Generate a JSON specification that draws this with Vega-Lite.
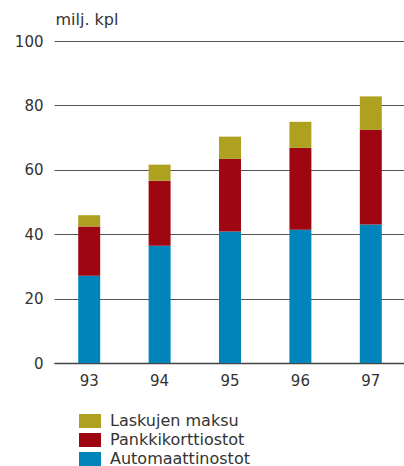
{
  "$schema": "https://vega.github.io/schema/vega-lite/v6.json",
  "width": 352,
  "height": 322,
  "padding": {"left": 54, "top": 41, "right": 0, "bottom": 103},
  "autosize": {"type": "none"},
  "data": {
    "values": [
      {"vuosi": "93", "laji": "Automaattinostot", "kerros": 1, "arvo": 27.1},
      {"vuosi": "93", "laji": "Pankkikorttiostot", "kerros": 2, "arvo": 15.3},
      {"vuosi": "93", "laji": "Laskujen maksu", "kerros": 3, "arvo": 3.5},
      {"vuosi": "94", "laji": "Automaattinostot", "kerros": 1, "arvo": 36.4},
      {"vuosi": "94", "laji": "Pankkikorttiostot", "kerros": 2, "arvo": 20.2},
      {"vuosi": "94", "laji": "Laskujen maksu", "kerros": 3, "arvo": 5.0},
      {"vuosi": "95", "laji": "Automaattinostot", "kerros": 1, "arvo": 40.8},
      {"vuosi": "95", "laji": "Pankkikorttiostot", "kerros": 2, "arvo": 22.6},
      {"vuosi": "95", "laji": "Laskujen maksu", "kerros": 3, "arvo": 6.9},
      {"vuosi": "96", "laji": "Automaattinostot", "kerros": 1, "arvo": 41.4},
      {"vuosi": "96", "laji": "Pankkikorttiostot", "kerros": 2, "arvo": 25.4},
      {"vuosi": "96", "laji": "Laskujen maksu", "kerros": 3, "arvo": 8.1},
      {"vuosi": "97", "laji": "Automaattinostot", "kerros": 1, "arvo": 43.0},
      {"vuosi": "97", "laji": "Pankkikorttiostot", "kerros": 2, "arvo": 29.4},
      {"vuosi": "97", "laji": "Laskujen maksu", "kerros": 3, "arvo": 10.4}
    ]
  },
  "mark": {"type": "bar"},
  "encoding": {
    "x": {
      "field": "vuosi",
      "type": "ordinal",
      "scale": {"paddingInner": 0.688, "paddingOuter": 0.344},
      "axis": {
        "title": null,
        "labelAngle": 0,
        "ticks": false,
        "domain": true,
        "domainColor": "#444",
        "domainWidth": 1.5,
        "labelPadding": 10,
        "labelFont": "DejaVu Sans",
        "labelFontSize": 15,
        "labelColor": "#333"
      }
    },
    "y": {
      "field": "arvo",
      "type": "quantitative",
      "stack": "zero",
      "scale": {"domain": [0, 100], "nice": false},
      "axis": {
        "values": [0, 20, 40, 60, 80, 100],
        "title": "milj. kpl",
        "titleAngle": 0,
        "titleAlign": "left",
        "titleBaseline": "alphabetic",
        "titleX": 1,
        "titleY": -17,
        "titleFont": "DejaVu Sans",
        "titleFontSize": 16,
        "titleFontWeight": "normal",
        "titleColor": "#333",
        "domain": false,
        "ticks": false,
        "grid": true,
        "gridColor": "#555",
        "gridWidth": 1.2,
        "labelPadding": 11,
        "labelFont": "DejaVu Sans",
        "labelFontSize": 15,
        "labelColor": "#333"
      }
    },
    "order": {"field": "kerros", "type": "quantitative", "sort": "ascending"},
    "color": {
      "field": "laji",
      "type": "nominal",
      "sort": ["Laskujen maksu", "Pankkikorttiostot", "Automaattinostot"],
      "scale": {
        "range": ["#ADA11F", "#9E0711", "#0084BA"]
      },
      "legend": {
        "title": null,
        "orient": "none",
        "legendX": 25,
        "legendY": 369,
        "direction": "vertical",
        "padding": 0,
        "symbolType": "M-1,-0.636L1,-0.636L1,0.636L-1,0.636Z",
        "symbolSize": 484,
        "symbolStrokeWidth": 0,
        "symbolOpacity": 1,
        "labelOffset": 9,
        "labelFont": "DejaVu Sans",
        "labelFontSize": 16,
        "labelColor": "#333",
        "rowPadding": 0
      }
    }
  },
  "config": {
    "view": {"stroke": null},
    "background": "#ffffff"
  }
}
